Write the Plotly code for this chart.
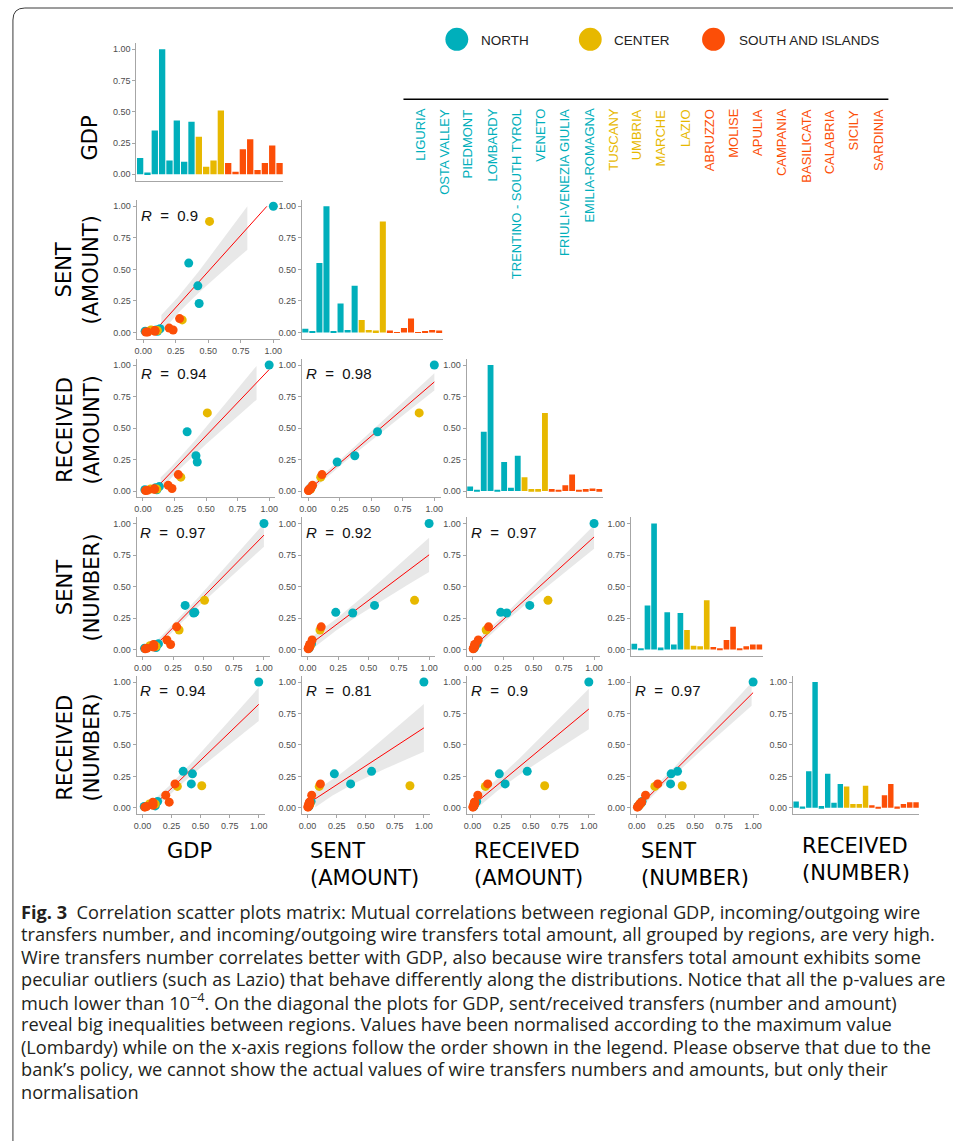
import numpy as np
import plotly.graph_objects as go

W, H = 953, 1141

# ---------------- data ----------------
REGIONS = ["LIGURIA", "OSTA VALLEY", "PIEDMONT", "LOMBARDY", "TRENTINO - SOUTH TYROL",
           "VENETO", "FRIULI-VENEZIA GIULIA", "EMILIA-ROMAGNA", "TUSCANY", "UMBRIA",
           "MARCHE", "LAZIO", "ABRUZZO", "MOLISE", "APULIA", "CAMPANIA", "BASILICATA",
           "CALABRIA", "SICILY", "SARDINIA"]
AREAS = ["NORTH"] * 8 + ["CENTER"] * 4 + ["SOUTH AND ISLANDS"] * 8
AREA_NAMES = ["NORTH", "CENTER", "SOUTH AND ISLANDS"]
AREA_COLORS = {"NORTH": "#00AFBB", "CENTER": "#E7B800", "SOUTH AND ISLANDS": "#FC4E07"}

GDP = [0.13, 0.015, 0.35, 1.00, 0.11, 0.43, 0.10, 0.42, 0.30, 0.06, 0.11, 0.51,
       0.09, 0.02, 0.20, 0.28, 0.035, 0.09, 0.23, 0.09]
SENT_AMOUNT = [0.03, 0.01, 0.55, 1.00, 0.01, 0.23, 0.02, 0.37, 0.10, 0.02, 0.015, 0.88,
               0.015, 0.003, 0.035, 0.11, 0.003, 0.01, 0.02, 0.015]
RECEIVED_AMOUNT = [0.035, 0.01, 0.47, 1.00, 0.01, 0.23, 0.025, 0.28, 0.11, 0.015, 0.015, 0.62,
                   0.015, 0.003, 0.045, 0.13, 0.005, 0.015, 0.02, 0.015]
SENT_NUMBER = [0.045, 0.01, 0.35, 1.00, 0.015, 0.295, 0.04, 0.29, 0.155, 0.03, 0.025, 0.39,
               0.02, 0.005, 0.075, 0.18, 0.01, 0.025, 0.04, 0.04]
RECEIVED_NUMBER = [0.05, 0.01, 0.29, 1.00, 0.015, 0.27, 0.04, 0.19, 0.17, 0.03, 0.03, 0.175,
                   0.02, 0.005, 0.10, 0.19, 0.01, 0.03, 0.045, 0.045]

VARIABLES = [GDP, SENT_AMOUNT, RECEIVED_AMOUNT, SENT_NUMBER, RECEIVED_NUMBER]
ROW_LABELS = ["GDP", "SENT<br>(AMOUNT)", "RECEIVED<br>(AMOUNT)", "SENT<br>(NUMBER)", "RECEIVED<br>(NUMBER)"]
COL_LABELS = ["GDP", "SENT<br>(AMOUNT)", "RECEIVED<br>(AMOUNT)", "SENT<br>(NUMBER)", "RECEIVED<br>(NUMBER)"]
R_LABELS = {(1, 0): "0.9",
            (2, 0): "0.94", (2, 1): "0.98",
            (3, 0): "0.97", (3, 1): "0.92", (3, 2): "0.97",
            (4, 0): "0.94", (4, 1): "0.81", (4, 2): "0.9", (4, 3): "0.97"}
TICKS = [0, 0.25, 0.5, 0.75, 1.0]
TICK_TEXT = ["0.00", "0.25", "0.50", "0.75", "1.00"]

CAPTION = [
    "<b>Fig. 3</b>  Correlation scatter plots matrix: Mutual correlations between regional GDP, incoming/outgoing wire",
    "transfers number, and incoming/outgoing wire transfers total amount, all grouped by regions, are very high.",
    "Wire transfers number correlates better with GDP, also because wire transfers total amount exhibits some",
    "peculiar outliers (such as Lazio) that behave differently along the distributions. Notice that all the p-values are",
    "much lower than 10<sup>\u22124</sup>. On the diagonal the plots for GDP, sent/received transfers (number and amount)",
    "reveal big inequalities between regions. Values have been normalised according to the maximum value",
    "(Lombardy) while on the x-axis regions follow the order shown in the legend. Please observe that due to the",
    "bank\u2019s policy, we cannot show the actual values of wire transfers numbers and amounts, but only their",
    "normalisation",
]

# ---------------- layout geometry (pixels) ----------------
ROW_Y = [(174.3, 49.3), (332.5, 206.3), (491.0, 365.0), (649.5, 523.5), (807.8, 682.0)]  # (y of 0, y of 1)
COL_LEFT = [134.5, 300.7, 466.7, 632.0]
ROW_UNIT_X = {1: 131.0, 2: 127.0, 3: 122.0, 4: 117.0}
BAR_X = [(134.3, 282.0), (300.7, 442.5), (466.7, 603.5), (632.0, 764.5), (795.0, 922.0)]


def px(x):
    return x / W


def py(y):
    return 1 - y / H


fig = go.Figure()
layout = {}
counter = [0]

AX_COLOR = "#a6a6a6"
TICK_FONT = dict(family="Liberation Sans, Arial", size=9, color="#4d4d4d")


def new_axes(xdom, ydom, xextra, yextra):
    """xdom = (left px, right px); ydom = (bottom px, top px)"""
    counter[0] += 1
    k = counter[0]
    xa = "x" if k == 1 else f"x{k}"
    ya = "y" if k == 1 else f"y{k}"
    xkey = "xaxis" if k == 1 else f"xaxis{k}"
    ykey = "yaxis" if k == 1 else f"yaxis{k}"
    base = dict(showgrid=False, zeroline=False, showline=True, linecolor=AX_COLOR,
                linewidth=1.2, tickfont=TICK_FONT, fixedrange=True)
    xcfg = dict(base, domain=[px(xdom[0]), px(xdom[1])], anchor=ya)
    xcfg.update(xextra)
    ycfg = dict(base, domain=[py(ydom[0]), py(ydom[1])], anchor=xa)
    ycfg.update(yextra)
    layout[xkey] = xcfg
    layout[ykey] = ycfg
    return xa, ya


colors = [AREA_COLORS[a] for a in AREAS]
T975 = 2.10092  # t quantile, df = 18
annotations = []

for r in range(5):
    y0, y1 = ROW_Y[r]
    uy = y0 - y1
    ydom = (y0 + 0.05 * uy, y1 - 0.05 * uy)
    yextra = dict(range=[-0.05, 1.05], tickvals=TICKS, ticktext=TICK_TEXT,
                  ticks="outside", ticklen=3, tickcolor=AX_COLOR)
    # scatter panels
    for c in range(r):
        ux = ROW_UNIT_X[r]
        x0 = COL_LEFT[c] + 0.05 * ux
        xdom = (x0 - 0.05 * ux, x0 + 1.05 * ux)
        xextra = dict(range=[-0.05, 1.05], tickvals=TICKS, ticktext=TICK_TEXT,
                      ticks="outside", ticklen=3, tickcolor=AX_COLOR)
        xa, ya = new_axes(xdom, ydom, xextra, yextra)
        xs = np.array(VARIABLES[c], dtype=float)
        ys = np.array(VARIABLES[r], dtype=float)
        # linear fit with 95% confidence band
        b, a = np.polyfit(xs, ys, 1)
        n = len(xs)
        resid = ys - (a + b * xs)
        s = np.sqrt((resid ** 2).sum() / (n - 2))
        xg = np.linspace(xs.min(), xs.max(), 80)
        fit = a + b * xg
        se = s * np.sqrt(1 / n + (xg - xs.mean()) ** 2 / ((xs - xs.mean()) ** 2).sum())
        lo, hi = fit - T975 * se, fit + T975 * se
        band = (lo >= 0) & (hi <= 1)
        if band.any():
            bx = np.concatenate([xg[band], xg[band][::-1]])
            by = np.concatenate([lo[band], hi[band][::-1]])
            fig.add_trace(go.Scatter(x=bx, y=by, mode="lines", fill="toself",
                                     fillcolor="rgba(190,190,190,0.35)", line=dict(width=0),
                                     hoverinfo="skip", showlegend=False, xaxis=xa, yaxis=ya))
        lm = (fit >= 0) & (fit <= 1)
        fig.add_trace(go.Scatter(x=xg[lm], y=fit[lm], mode="lines",
                                 line=dict(color="#ff0000", width=1), hoverinfo="skip",
                                 showlegend=False, xaxis=xa, yaxis=ya))
        for area in AREA_NAMES:
            idx = [i for i in range(len(REGIONS)) if AREAS[i] == area]
            fig.add_trace(go.Scatter(x=xs[idx], y=ys[idx], mode="markers",
                                     marker=dict(size=9, color=AREA_COLORS[area]),
                                     text=[REGIONS[i] for i in idx], showlegend=False,
                                     xaxis=xa, yaxis=ya))
        annotations.append(dict(
            x=-0.035, y=0.93, xref=xa, yref=ya, xanchor="left", yanchor="middle",
            text=f"<i>R</i>  =  {R_LABELS[(r, c)]}", showarrow=False,
            font=dict(family="Liberation Sans, Arial", size=15, color="#111111")))
    # diagonal bar chart
    bx0, bx1 = BAR_X[r]
    xextra = dict(range=[-0.5, 19.5], showticklabels=False, ticks="")
    xa, ya = new_axes((bx0, bx1), ydom, xextra, yextra)
    fig.add_trace(go.Bar(x=list(range(len(REGIONS))), y=VARIABLES[r], width=0.86,
                         marker=dict(color=colors, line=dict(width=0)),
                         text=REGIONS, textposition="none", showlegend=False,
                         xaxis=xa, yaxis=ya))

shapes = []

# row labels (left)
ROW_LABEL_POS = [(88, 138), (75, 270), (75, 430), (75, 588), (75, 748)]
for lab, (x, y) in zip(ROW_LABELS, ROW_LABEL_POS):
    annotations.append(dict(x=px(x), y=py(y), xref="paper", yref="paper", text=lab,
                            textangle=-90, showarrow=False, xanchor="center", yanchor="middle",
                            font=dict(family="DejaVu Sans", size=21, color="#000000")))

# column labels (bottom)
COL_LABEL_POS = [(163, 837), (307, 837), (472, 837), (640, 837), (802, 832)]
for lab, (x, y) in zip(COL_LABELS, COL_LABEL_POS):
    annotations.append(dict(x=px(x), y=py(y), xref="paper", yref="paper", text=lab,
                            showarrow=False, xanchor="left", yanchor="top", align="left",
                            font=dict(family="DejaVu Sans", size=21, color="#000000")))

# area legend
LEG_CIRCLES = [456.7, 591.0, 715.0]
LEG_TEXT_X = [479.0, 613.3, 738.3]
for area, cx, tx in zip(AREA_NAMES, LEG_CIRCLES, LEG_TEXT_X):
    shapes.append(dict(type="circle", xref="paper", yref="paper",
                       x0=px(cx - 11.5), x1=px(cx + 11.5), y0=py(39.3 + 11.5), y1=py(39.3 - 11.5),
                       fillcolor=AREA_COLORS[area], line=dict(width=0)))
    annotations.append(dict(x=px(tx), y=py(40), xref="paper", yref="paper", text=area,
                            showarrow=False, xanchor="left", yanchor="middle",
                            font=dict(family="Liberation Sans, Arial", size=13.5, color="#222222")))

# region legend
shapes.append(dict(type="line", xref="paper", yref="paper", x0=px(403), x1=px(891),
                   y0=py(99.3), y1=py(99.3), line=dict(color="#000000", width=1.5)))
for i, (reg, area) in enumerate(zip(REGIONS, AREAS)):
    annotations.append(dict(x=px(419.3 + i * 24.28), y=py(107), xref="paper", yref="paper",
                            text=reg, textangle=-90, showarrow=False,
                            xanchor="center", yanchor="top",
                            font=dict(family="Liberation Sans, Arial", size=13,
                                      color=AREA_COLORS[area])))

# caption
for i, line in enumerate(CAPTION):
    annotations.append(dict(x=px(16), y=py(912 + i * 22.45), xref="paper", yref="paper",
                            text=line, showarrow=False, xanchor="left", yanchor="middle",
                            font=dict(family="Open Sans", size=18.2, color="#231f20")))

# frame
frame_path = (f"M {px(10)},{py(1150)} L {px(10)},{py(20)} "
              f"Q {px(10)},{py(8)} {px(22)},{py(8)} L {px(960)},{py(8)}")
shapes.append(dict(type="path", xref="paper", yref="paper", path=frame_path,
                   line=dict(color="#3a3a3a", width=1)))

fig.update_layout(
    width=W, height=H, margin=dict(l=0, r=0, t=0, b=0),
    paper_bgcolor="white", plot_bgcolor="white", showlegend=False,
    annotations=annotations, shapes=shapes, bargap=0.1, **layout)

fig.write_html("out.html")
